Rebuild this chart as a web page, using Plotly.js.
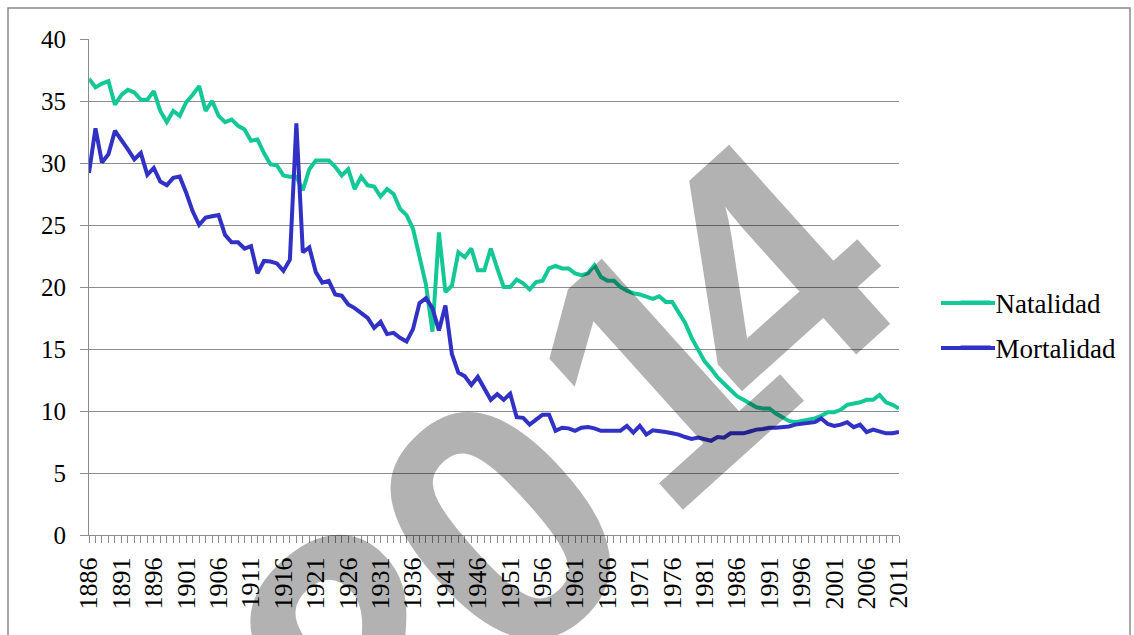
<!DOCTYPE html>
<html>
<head>
<meta charset="utf-8">
<script src="https://cdn.plot.ly/plotly-3.0.1.min.js"></script>
<style>
html,body{margin:0;padding:0;background:#fff;}
#chart{width:1134px;height:635px;}
</style>
</head>
<body>
<div id="chart"></div>
<script>
var years = [1886,1887,1888,1889,1890,1891,1892,1893,1894,1895,1896,1897,1898,1899,1900,
1901,1902,1903,1904,1905,1906,1907,1908,1909,1910,1911,1912,1913,1914,1915,1916,1917,1918,1919,1920,
1921,1922,1923,1924,1925,1926,1927,1928,1929,1930,1931,1932,1933,1934,1935,1936,1937,1938,1939,1940,
1941,1942,1943,1944,1945,1946,1947,1948,1949,1950,1951,1952,1953,1954,1955,1956,1957,1958,1959,1960,
1961,1962,1963,1964,1965,1966,1967,1968,1969,1970,1971,1972,1973,1974,1975,1976,1977,1978,1979,1980,
1981,1982,1983,1984,1985,1986,1987,1988,1989,1990,1991,1992,1993,1994,1995,1996,1997,1998,1999,2000,
2001,2002,2003,2004,2005,2006,2007,2008,2009,2010,2011];

var natalidad = [36.8,36.1,36.4,36.6,34.7,35.5,35.9,35.7,35.1,35.1,35.8,34.2,33.3,34.2,33.8,
34.9,35.5,36.2,34.2,35.0,33.8,33.3,33.5,33.0,32.7,31.8,31.9,30.8,29.9,29.8,29.0,28.9,28.9,27.8,29.5,
30.2,30.2,30.2,29.7,29.0,29.5,27.9,28.9,28.2,28.1,27.3,27.9,27.5,26.3,25.8,24.7,22.6,20.2,16.4,24.4,
19.6,20.1,22.8,22.4,23.1,21.35,21.35,23.1,21.5,20.0,20.0,20.6,20.3,19.8,20.4,20.5,21.5,21.7,21.5,21.5,
21.1,20.95,21.1,21.75,20.8,20.5,20.5,20.0,19.7,19.5,19.4,19.2,19.05,19.25,18.8,18.8,18.0,17.1,15.9,14.9,
14.0,13.4,12.7,12.2,11.7,11.2,10.9,10.6,10.3,10.2,10.2,9.8,9.5,9.2,9.1,9.2,9.3,9.4,9.6,9.9,
9.9,10.1,10.5,10.6,10.7,10.9,10.9,11.3,10.7,10.5,10.2];

var mortalidad = [29.2,32.8,30.05,30.7,32.6,31.9,31.1,30.3,30.8,29.05,29.6,28.5,28.2,28.8,28.9,
27.6,26.1,25.0,25.6,25.7,25.8,24.2,23.6,23.6,23.1,23.3,21.1,22.1,22.05,21.9,21.3,22.2,33.2,22.8,23.2,
21.2,20.35,20.5,19.4,19.3,18.6,18.3,17.9,17.5,16.7,17.2,16.2,16.3,15.9,15.6,16.6,18.7,19.1,18.3,16.5,
18.5,14.6,13.1,12.8,12.1,12.75,11.75,10.9,11.35,10.9,11.4,9.5,9.45,8.9,9.3,9.7,9.7,8.4,8.65,8.6,
8.4,8.65,8.7,8.6,8.4,8.4,8.4,8.4,8.8,8.25,8.8,8.1,8.45,8.4,8.3,8.2,8.1,7.9,7.75,7.85,
7.7,7.6,7.9,7.85,8.2,8.2,8.2,8.35,8.5,8.55,8.65,8.65,8.7,8.75,8.9,8.95,9.0,9.1,9.4,8.95,
8.8,8.9,9.1,8.7,8.9,8.3,8.5,8.35,8.2,8.2,8.3];

var labelYears = [1886,1891,1896,1901,1906,1911,1916,1921,1926,1931,1936,1941,1946,1951,1956,1961,1966,1971,1976,1981,1986,1991,1996,2001,2006,2011];
var yTicks = [0,5,10,15,20,25,30,35,40];
var seriesNames = ['Natalidad','Mortalidad'];
var seriesColors = ['#13c896','#3131c6'];
var watermarkChars = ['2','0','1','4'];

var gridCol = '#8c8c8c';
var serif = 'Liberation Serif';

var traces = [
  {x: years, y: natalidad, type: 'scatter', mode: 'lines', name: seriesNames[0],
   line: {color: seriesColors[0], width: 4, shape: 'linear'}, legend: 'legend', hoverinfo: 'skip'},
  {x: years, y: mortalidad, type: 'scatter', mode: 'lines', name: seriesNames[1],
   line: {color: seriesColors[1], width: 4, shape: 'linear'}, legend: 'legend2', hoverinfo: 'skip'}
];

// paper-coordinate helpers for the outer frame, legend swatches and watermark
var L = 89, T = 39, W = 810, H = 496;
function px(x){ return (x - L) / W; }
function py(y){ return (T + H - y) / H; }

// watermark glyph anchor points (pixels)
var wmPos = [[364, 652], [500, 525], [657, 369], [762, 275]];
var wmAnn = watermarkChars.map(function(ch, i){
  return {text: ch, xref: 'paper', yref: 'paper', x: px(wmPos[i][0]), y: py(wmPos[i][1]),
    xanchor: 'center', yanchor: 'middle', showarrow: false, textangle: -42,
    font: {family: 'Liberation Sans', size: 350, color: 'rgba(0,0,0,0.3)', weight: 'bold'}};
});

var layout = {
  width: 1134, height: 635,
  margin: {l: L, r: 1134 - L - W, t: T, b: 635 - T - H},
  paper_bgcolor: '#ffffff', plot_bgcolor: '#ffffff',
  font: {family: serif, color: '#000'},
  showlegend: true,
  xaxis: {
    type: 'linear', range: [years[0], years[years.length-1]],
    tickmode: 'array', tickvals: labelYears, ticktext: labelYears.map(String),
    tickangle: -90, ticks: 'outside', ticklen: 7, tickcolor: gridCol, tickwidth: 1,
    showgrid: false, zeroline: false, showline: true, linecolor: gridCol, linewidth: 1,
    tickfont: {family: serif, size: 26, color: '#000'},
    ticklabelstandoff: 4,
    minor: {tickmode: 'linear', tick0: years[0], dtick: 1, ticks: 'outside', ticklen: 7, tickcolor: gridCol, showgrid: false},
    fixedrange: true
  },
  yaxis: {
    range: [0, 40], tickmode: 'array', tickvals: yTicks,
    ticks: 'outside', ticklen: 8, tickcolor: gridCol, tickwidth: 1,
    showgrid: true, gridcolor: gridCol, gridwidth: 1,
    zeroline: false, showline: true, linecolor: gridCol, linewidth: 1,
    tickfont: {family: serif, size: 25, color: '#000'},
    ticklabelstandoff: 9,
    fixedrange: true
  },
  legend: {x: 1.0698, y: py(303), xanchor: 'left', yanchor: 'middle', bgcolor: 'rgba(0,0,0,0)',
    font: {family: serif, size: 27, color: '#000'}},
  legend2: {x: 1.0698, y: py(348), xanchor: 'left', yanchor: 'middle', bgcolor: 'rgba(0,0,0,0)',
    font: {family: serif, size: 27, color: '#000'}},
  shapes: [
    {type: 'rect', xref: 'paper', yref: 'paper', x0: px(8), x1: px(1130), y0: py(660), y1: py(8),
     line: {color: '#8a8a8a', width: 1.5}, fillcolor: 'rgba(0,0,0,0)', layer: 'below'},
    {type: 'line', xref: 'paper', yref: 'paper', x0: px(941), x1: px(995), y0: py(303), y1: py(303),
     line: {color: seriesColors[0], width: 4}, layer: 'above'},
    {type: 'line', xref: 'paper', yref: 'paper', x0: px(941), x1: px(995), y0: py(348), y1: py(348),
     line: {color: seriesColors[1], width: 4}, layer: 'above'}
  ],
  annotations: wmAnn
};

Plotly.newPlot('chart', traces, layout, {staticPlot: true, displayModeBar: false});
</script>
</body>
</html>
